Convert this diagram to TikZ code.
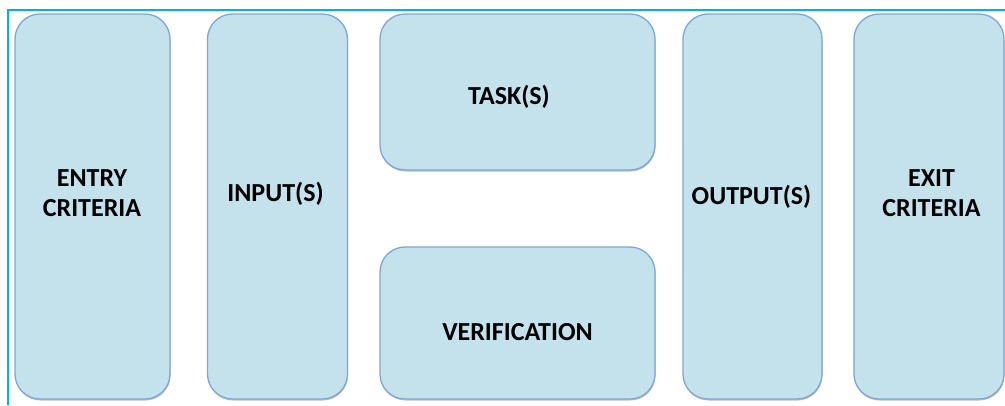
\documentclass[tikz,border=0pt]{standalone}
\usepackage{fontspec}
\setmainfont{Carlito}
\usetikzlibrary{shadows}
\definecolor{boxfill}{RGB}{195,226,236}
\definecolor{boxline}{RGB}{126,166,210}
\definecolor{framecol}{RGB}{0,176,240}
\begin{document}
\begin{tikzpicture}[x=1pt,y=-1pt]
        \tikzset{
        phase box/.style={draw=boxline,fill=boxfill,line width=1.3pt,rounded corners=25pt,
            inner sep=0,outer sep=0,
            drop shadow={shadow xshift=0.5pt,shadow yshift=-1.5pt,opacity=0.25,fill=black}},
        phase text/.style={align=center,font=\fontsize{26}{30}\selectfont\bfseries,inner sep=0}
        }
        \useasboundingbox (0,0) rectangle (1005,405);
        \draw[framecol,line width=1.5pt] (8,405) -- (8,10) -- (1005,10);

        \node[phase box,minimum width=155pt,minimum height=385pt] (entry) at (92.5,206.5) {};
        \node[phase box,minimum width=140pt,minimum height=385pt] (input) at (277.5,206.5) {};
        \node[phase box,minimum width=275pt,minimum height=156pt] (task) at (517.5,92) {};
        \node[phase box,minimum width=275pt,minimum height=152pt] (verif) at (517.5,323) {};
        \node[phase box,minimum width=139pt,minimum height=385pt] (output) at (752.5,206.5) {};
        \node[phase box,minimum width=150pt,minimum height=385pt] (exit) at (929,206.5) {};

        \node[phase text] (entry text) at (92,193) {ENTRY\\CRITERIA};
        \node[phase text] (input text) at (275.5,193.5) {INPUT(S)};
        \node[phase text] (task text) at (509,97) {TASK(S)};
        \node[phase text] (verif text) at (517.5,332) {VERIFICATION};
        \node[phase text] (output text) at (751.5,196.5) {OUTPUT(S)};
        \node[phase text] (exit text) at (931.5,193) {EXIT\\CRITERIA};
    \end{tikzpicture}
\end{document}
